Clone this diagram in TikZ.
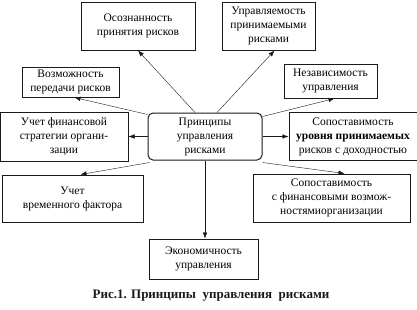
\documentclass[tikz,border=0pt]{standalone}
\usepackage{fontspec}
\setmainfont{Liberation Serif}
\usetikzlibrary{arrows.meta, positioning}
\definecolor{ink}{HTML}{1A1A1A}
\tikzset{box/.style={draw=ink, line width=1pt, align=center, inner sep=1pt, font=\fontsize{11.5}{14}\selectfont},
  arr/.style={ink, line width=0.4pt, -{Latex[length=6pt,width=4.5pt]}}}
\begin{document}
\begin{tikzpicture}[x=1pt,y=-1pt]
  \useasboundingbox (0,0) rectangle (417,309);
  \node[box,rounded corners=5pt,minimum width=114pt,minimum height=47pt] (c) at (205,136.5) {Принципы\\управления\\рисками};
  \node[box,minimum width=114pt,minimum height=48pt] (osoz) at (138,26) {Осознанность\\принятия рисков};
  \node[box,minimum width=93pt,minimum height=48pt] (upr) at (268.5,26) {Управляемость\\принимаемыми\\рисками};
  \node[box,minimum width=97pt,minimum height=30pt] (vozm) at (70.5,82) {Возможность\\передачи рисков};
  \node[box,minimum width=93pt,minimum height=34pt] (nezav) at (330.5,81) {Независимость\\управления};
  \node[box,minimum width=128pt,minimum height=49pt] (uchfin) at (64,136.5) {Учет финансовой\\стратегии органи-\\зации};
  \node[box,minimum width=128pt,minimum height=48pt] (sopur) at (353,136.5) {Сопоставимость\\\textbf{уровня принимаемых}\\рисков с доходностью};
  \node[box,minimum width=141pt,minimum height=47pt] (uchvr) at (72.5,198.5) {Учет\\временного фактора};
  \node[box,minimum width=157pt,minimum height=48pt] (sopfin) at (331.5,198) {Сопоставимость\\с финансовыми возмож-\\ностямиорганизации};
  \node[box,minimum width=109pt,minimum height=40pt] (econ) at (203.5,259) {Экономичность\\управления};
  \node[ink,font=\fontsize{13}{15}\selectfont\bfseries] (cap) at (211,296) {Рис.1. Принципы\ \ управления\ \ рисками};
  \draw[arr] ([xshift=-10pt]c.north) -- (osoz.south);
  \draw[arr] ([xshift=12pt]c.north) -- ([xshift=6pt]upr.south);
  \draw[arr] ([yshift=-2pt]c.north west) -- ([xshift=4pt]vozm.south);
  \draw[arr] ([yshift=-4pt]c.north east) -- ([xshift=4pt]nezav.south);
  \draw[arr] (c.west) -- (uchfin.east);
  \draw[arr] (c.east) -- (sopur.west);
  \draw[arr] ([xshift=2pt,yshift=-2pt]c.south west) -- ([xshift=8pt]uchvr.north);
  \draw[arr] ([yshift=-2pt]c.south east) -- ([xshift=13pt]sopfin.north);
  \draw[arr] (c.south) -- (c.south |- econ.north);
\end{tikzpicture}
\end{document}
